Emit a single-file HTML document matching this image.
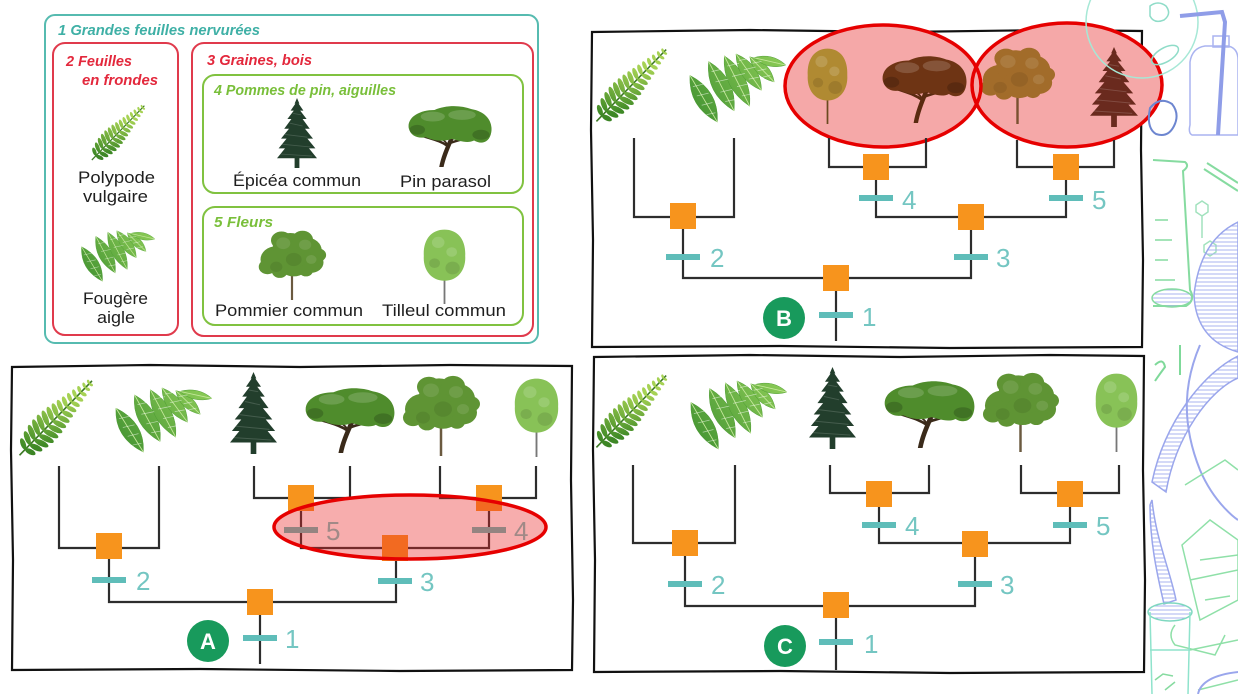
<!DOCTYPE html>
<html><head><meta charset="utf-8"><style>
html,body{margin:0;padding:0;background:#fff;}
svg{display:block;}
.ln{fill:none;stroke:#2d2d2d;stroke-width:2.2;}
.nd{fill:#f7941d;}
.tk{fill:#5fbdb9;}
.num{font-family:"Liberation Sans",sans-serif;font-size:26px;fill:#74c6c2;}
.lt{font-family:"Liberation Sans",sans-serif;font-size:22px;font-weight:bold;fill:#fff;text-anchor:middle;}
.nm{font-family:"Liberation Sans",sans-serif;font-size:17px;fill:#1e1e1e;}
.hd{font-family:"Liberation Sans",sans-serif;font-size:15px;font-style:italic;font-weight:bold;}
</style></head><body>
<svg width="1238" height="694" viewBox="0 0 1238 694" xmlns="http://www.w3.org/2000/svg">
<defs>
<linearGradient id="gP" gradientUnits="userSpaceOnUse" x1="5" y1="95" x2="95" y2="8">
<stop offset="0" stop-color="#2a6420"/><stop offset="0.55" stop-color="#3f8a26"/><stop offset="1" stop-color="#a6d254"/></linearGradient>
<linearGradient id="gA" gradientUnits="userSpaceOnUse" x1="0" y1="75" x2="100" y2="0">
<stop offset="0" stop-color="#3f9030"/><stop offset="1" stop-color="#8fce58"/></linearGradient>
<pattern id="hatch" width="6" height="4" patternUnits="userSpaceOnUse"><line x1="0" y1="2" x2="6" y2="2" stroke="#aab3ef" stroke-width="1"/></pattern>

<symbol id="fernP" viewBox="0 0 100 100" preserveAspectRatio="none" overflow="visible">
<g transform="translate(6,94) rotate(-44)" fill="url(#gP)">
<line x1="-4" y1="0" x2="122" y2="0" stroke="#3d7a25" stroke-width="2"/>
<ellipse cx="6" cy="-7" rx="3.2" ry="7" transform="rotate(22 6 0)"/><ellipse cx="6" cy="7" rx="3.2" ry="7" transform="rotate(-22 6 0)"/>
<ellipse cx="14" cy="-8.5" rx="3.4" ry="8.5" transform="rotate(22 14 0)"/><ellipse cx="14" cy="8.5" rx="3.4" ry="8.5" transform="rotate(-22 14 0)"/>
<ellipse cx="22" cy="-9.5" rx="3.5" ry="9.5" transform="rotate(22 22 0)"/><ellipse cx="22" cy="9.5" rx="3.5" ry="9.5" transform="rotate(-22 22 0)"/>
<ellipse cx="30" cy="-10" rx="3.5" ry="10" transform="rotate(22 30 0)"/><ellipse cx="30" cy="10" rx="3.5" ry="10" transform="rotate(-22 30 0)"/>
<ellipse cx="38" cy="-10" rx="3.5" ry="10" transform="rotate(22 38 0)"/><ellipse cx="38" cy="10" rx="3.5" ry="10" transform="rotate(-22 38 0)"/>
<ellipse cx="46" cy="-9.6" rx="3.4" ry="9.6" transform="rotate(22 46 0)"/><ellipse cx="46" cy="9.6" rx="3.4" ry="9.6" transform="rotate(-22 46 0)"/>
<ellipse cx="54" cy="-9" rx="3.3" ry="9" transform="rotate(22 54 0)"/><ellipse cx="54" cy="9" rx="3.3" ry="9" transform="rotate(-22 54 0)"/>
<ellipse cx="62" cy="-8.2" rx="3.2" ry="8.2" transform="rotate(22 62 0)"/><ellipse cx="62" cy="8.2" rx="3.2" ry="8.2" transform="rotate(-22 62 0)"/>
<ellipse cx="70" cy="-7.4" rx="3" ry="7.4" transform="rotate(22 70 0)"/><ellipse cx="70" cy="7.4" rx="3" ry="7.4" transform="rotate(-22 70 0)"/>
<ellipse cx="78" cy="-6.6" rx="2.8" ry="6.6" transform="rotate(22 78 0)"/><ellipse cx="78" cy="6.6" rx="2.8" ry="6.6" transform="rotate(-22 78 0)"/>
<ellipse cx="86" cy="-5.8" rx="2.6" ry="5.8" transform="rotate(22 86 0)"/><ellipse cx="86" cy="5.8" rx="2.6" ry="5.8" transform="rotate(-22 86 0)"/>
<ellipse cx="94" cy="-5" rx="2.4" ry="5" transform="rotate(22 94 0)"/><ellipse cx="94" cy="5" rx="2.4" ry="5" transform="rotate(-22 94 0)"/>
<ellipse cx="102" cy="-4.2" rx="2.2" ry="4.2" transform="rotate(22 102 0)"/><ellipse cx="102" cy="4.2" rx="2.2" ry="4.2" transform="rotate(-22 102 0)"/>
<ellipse cx="110" cy="-3.4" rx="1.9" ry="3.4" transform="rotate(22 110 0)"/><ellipse cx="110" cy="3.4" rx="1.9" ry="3.4" transform="rotate(-22 110 0)"/>
<ellipse cx="117" cy="-2.6" rx="1.6" ry="2.6" transform="rotate(22 117 0)"/><ellipse cx="117" cy="2.6" rx="1.6" ry="2.6" transform="rotate(-22 117 0)"/>
</g></symbol>

<symbol id="fernA" viewBox="0 0 100 75" preserveAspectRatio="none" overflow="visible">
<g fill="url(#gA)" stroke="#4a9a32" stroke-width="0.5">
<path d="M2,24 Q31.7,40.2 30,74 Q0.3,57.8 2,24 Z"/>
<path d="M21,9 Q50.2,27.6 47,62 Q17.8,43.4 21,9 Z"/>
<path d="M37,3 Q65.3,22.6 63,57 Q34.7,37.4 37,3 Z"/>
<path d="M49,1 Q74.5,12.2 75,40 Q49.5,28.8 49,1 Z"/>
<path d="M63,4 Q84.3,9.4 88,31 Q66.7,25.6 63,4 Z"/>
<path d="M67,5 Q85.9,-0.7 100,13 Q81.1,18.7 67,5 Z"/>
</g>
<g fill="none" stroke="#c6e89c" stroke-width="0.9">
<path d="M2,24 L30,74 M21,9 L47,62 M37,3 L63,57 M49,1 L75,40 M63,4 L88,31 M67,5 L100,13"/>
</g>
<g fill="none" stroke="#fff" stroke-opacity="0.55" stroke-width="0.8">
<path d="M5,36 L17,33 M9,46 L21,43 M14,56 L25,53 M19,66 L28,64 M24,20 L36,17 M28,31 L41,28 M33,42 L45,39 M38,52 L48,50 M40,14 L52,11 M45,25 L58,22 M50,36 L62,33 M55,46 L64,44 M52,8 L62,6 M57,18 L69,15 M62,28 L72,26 M66,11 L75,9 M71,19 L80,17 M76,26 L84,24"/>
</g></symbol>

<symbol id="spruce" viewBox="0 0 50 100" preserveAspectRatio="none">
<polygon stroke="none" points="25,0 28,8 27,8 33,18 29,18 37,30 32,30 41,44 35,44 45,58 38,58 48,72 40,72 50,86 28,86 28,100 22,100 22,86 0,86 10,72 2,72 12,58 5,58 15,44 9,44 18,30 13,30 21,18 17,18 23,8 22,8"/>
<g stroke="#fff" stroke-opacity="0.16" stroke-width="1.2" fill="none"><path d="M16,36 L32,40 M10,52 L38,56 M6,66 L42,70 M4,80 L44,83 M20,22 L30,24"/></g>
</symbol>

<symbol id="parasol" viewBox="0 0 100 75" preserveAspectRatio="none">
<g fill="none" stroke-linecap="round"><path d="M40,75 C42,64 46,54 52,40" stroke-width="5"/><path d="M48,50 C40,44 32,42 20,38" stroke-width="3"/><path d="M50,46 C60,42 70,40 82,38" stroke-width="3"/><path d="M47,48 C44,42 38,40 34,38" stroke-width="2"/><path d="M52,42 L60,36" stroke-width="2"/></g>
<path stroke="none" d="M2,28 C0,15 14,6 32,6 C45,0 62,0 75,5 C92,8 100,20 98,33 C96,46 86,48 78,43 C70,47 60,43 52,41 C42,45 30,43 22,39 C12,41 4,37 2,28 Z"/>
<g fill="#fff" fill-opacity="0.16" stroke="none"><ellipse cx="30" cy="14" rx="14" ry="6"/><ellipse cx="64" cy="12" rx="16" ry="6"/></g>
<g fill="#000" fill-opacity="0.18" stroke="none"><ellipse cx="12" cy="30" rx="9" ry="6"/><ellipse cx="86" cy="36" rx="10" ry="6"/></g>
</symbol>

<symbol id="pommier" viewBox="0 0 80 95" preserveAspectRatio="none">
<g fill="none"><path d="M40,95 L40,52" stroke-width="2.5"/><path d="M40,62 L30,52 M40,58 L52,48" stroke-width="1.5"/></g>
<g stroke="none">
<circle cx="22" cy="40" r="18"/><circle cx="38" cy="24" r="20"/><circle cx="56" cy="28" r="18"/><circle cx="62" cy="44" r="14"/><circle cx="42" cy="46" r="17"/><circle cx="12" cy="50" r="10"/><circle cx="28" cy="14" r="12"/><circle cx="52" cy="13" r="12"/><circle cx="70" cy="34" r="9"/><circle cx="56" cy="55" r="8"/><circle cx="26" cy="56" r="9"/>
</g>
<g fill="#fff" fill-opacity="0.1" stroke="none"><circle cx="30" cy="18" r="8"/><circle cx="55" cy="20" r="7"/><circle cx="62" cy="40" r="6"/></g>
<g fill="#000" fill-opacity="0.08" stroke="none"><circle cx="42" cy="40" r="9"/><circle cx="22" cy="50" r="7"/></g>
</symbol>

<symbol id="tilleul" viewBox="0 0 50 95" preserveAspectRatio="none">
<path d="M25,50 L25,95" fill="none" stroke-width="2"/>
<path stroke="none" d="M25,2 C40,2 49,15 48,35 C49,52 40,66 25,66 C10,66 1,52 2,35 C1,15 10,2 25,2 Z"/>
<g fill="#fff" fill-opacity="0.15" stroke="none"><circle cx="18" cy="18" r="7"/><circle cx="33" cy="30" r="6"/></g>
<g fill="#000" fill-opacity="0.1" stroke="none"><circle cx="34" cy="50" r="8"/><circle cx="14" cy="44" r="6"/></g>
</symbol>
</defs>

<!-- ========== LEGEND ========== -->
<rect x="45" y="15" width="493" height="328" rx="10" fill="none" stroke="#56bbb0" stroke-width="2"/>
<text class="hd" x="58" y="35" fill="#3fb0a6" textLength="202" lengthAdjust="spacingAndGlyphs">1 Grandes feuilles nervurées</text>
<rect x="53" y="43" width="125" height="292" rx="12" fill="none" stroke="#e03a4c" stroke-width="2"/>
<rect x="192" y="43" width="341" height="293" rx="12" fill="none" stroke="#e03a4c" stroke-width="2"/>
<text class="hd" x="66" y="66" fill="#e3283c" font-size="16" textLength="66" lengthAdjust="spacingAndGlyphs">2 Feuilles</text>
<text class="hd" x="82" y="85" fill="#e3283c" font-size="16" textLength="76" lengthAdjust="spacingAndGlyphs">en frondes</text>
<text class="hd" x="207" y="65" fill="#e3283c" font-size="16" textLength="105" lengthAdjust="spacingAndGlyphs">3 Graines, bois</text>
<rect x="203" y="75" width="320" height="118" rx="12" fill="none" stroke="#80c240" stroke-width="2"/>
<rect x="203" y="207" width="320" height="118" rx="12" fill="none" stroke="#80c240" stroke-width="2"/>
<text class="hd" x="214" y="95" fill="#79bf3a" textLength="182" lengthAdjust="spacingAndGlyphs">4 Pommes de pin, aiguilles</text>
<text class="hd" x="214" y="227" fill="#79bf3a" textLength="59" lengthAdjust="spacingAndGlyphs">5 Fleurs</text>

<use href="#fernP" x="90" y="100" width="58" height="62"/>
<use href="#fernA" x="80" y="230" width="75" height="52"/>
<use href="#spruce" x="277" y="98" width="40" height="70" fill="#223e2c"/>
<use href="#parasol" x="407" y="105" width="86" height="62" fill="#4f8c2c" stroke="#3a2a1a"/>
<use href="#pommier" x="257" y="230" width="70" height="70" fill="#5f9434" stroke="#6b5a40"/>
<use href="#tilleul" x="422" y="228" width="45" height="76" fill="#88c257" stroke="#777"/>

<text class="nm" x="78" y="183" textLength="77" lengthAdjust="spacingAndGlyphs">Polypode</text>
<text class="nm" x="83" y="202" textLength="65" lengthAdjust="spacingAndGlyphs">vulgaire</text>
<text class="nm" x="83" y="304" textLength="65" lengthAdjust="spacingAndGlyphs">Fougère</text>
<text class="nm" x="97" y="323" textLength="38" lengthAdjust="spacingAndGlyphs">aigle</text>
<text class="nm" x="233" y="186" textLength="128" lengthAdjust="spacingAndGlyphs">Épicéa commun</text>
<text class="nm" x="400" y="187" textLength="91" lengthAdjust="spacingAndGlyphs">Pin parasol</text>
<text class="nm" x="215" y="316" textLength="148" lengthAdjust="spacingAndGlyphs">Pommier commun</text>
<text class="nm" x="382" y="316" textLength="124" lengthAdjust="spacingAndGlyphs">Tilleul commun</text>

<!-- ========== PANEL A ========== -->
<path d="M12,367 L150,365 L300,367 L450,365 L572,366 L571,480 L573,600 L572,670 L400,671 L200,669 L12,670 L13,560 L11,450 Z" fill="none" stroke="#111" stroke-width="2.2"/>
<use href="#fernP" x="17" y="373" width="80" height="85"/>
<use href="#fernA" x="114" y="387" width="98" height="66"/>
<use href="#spruce" x="230" y="372" width="47" height="82" fill="#223e2c"/>
<use href="#parasol" x="304" y="387" width="92" height="66" fill="#4f8c2c" stroke="#3a2a1a"/>
<use href="#pommier" x="401" y="375" width="80" height="81" fill="#5f9434" stroke="#6b5a40"/>
<use href="#tilleul" x="513" y="377" width="47" height="80" fill="#88c257" stroke="#777"/>

<path class="ln" d="M59,466 V548 H159 V466"/>
<path class="ln" d="M109,546 V602 H396 V548"/>
<path class="ln" d="M260,602 V664"/>
<path class="ln" d="M254,466 V498 H350 V466"/>
<path class="ln" d="M440,466 V498 H536 V466"/>
<path class="ln" d="M301,498 V548 H489 V498"/>
<rect class="nd" x="96" y="533" width="26" height="26"/>
<rect class="nd" x="247" y="589" width="26" height="26"/>
<rect class="nd" x="382" y="535" width="26" height="26"/>
<rect class="nd" x="288" y="485" width="26" height="26"/>
<rect class="nd" x="476" y="485" width="26" height="26"/>
<rect class="tk" x="92" y="577" width="34" height="6"/>
<rect class="tk" x="243" y="635" width="34" height="6"/>
<rect class="tk" x="378" y="578" width="34" height="6"/>
<rect class="tk" x="284" y="527" width="34" height="6"/>
<rect class="tk" x="472" y="527" width="34" height="6"/>
<text class="num" x="136" y="590">2</text>
<text class="num" x="285" y="648">1</text>
<text class="num" x="420" y="591">3</text>
<text class="num" x="326" y="540">5</text>
<text class="num" x="514" y="540">4</text>
<circle cx="208" cy="641" r="21" fill="#189a5c"/>
<text class="lt" x="208" y="649">A</text>
<ellipse cx="410" cy="527" rx="136" ry="32" fill="rgba(235,40,40,0.38)" stroke="#e60000" stroke-width="3.5"/>

<!-- ========== PANEL B ========== -->
<path d="M592,32 L750,30 L900,32 L1050,30 L1142,31 L1141,150 L1143,260 L1142,347 L950,348 L780,346 L592,347 L593,240 L591,130 Z" fill="none" stroke="#111" stroke-width="2.2"/>
<use href="#fernP" x="594" y="42" width="77" height="82"/>
<use href="#fernA" x="688" y="53" width="98" height="70"/>
<ellipse cx="883" cy="86" rx="98" ry="61" fill="#f5a8a8"/>
<ellipse cx="1067" cy="85" rx="95" ry="62" fill="#f5a8a8"/>
<use href="#tilleul" x="806" y="47" width="43" height="77" fill="#b08a32" stroke="#6b4a20"/>
<use href="#parasol" x="881" y="55" width="87" height="68" fill="#6e3414" stroke="#5a2a10"/>
<use href="#pommier" x="979" y="47" width="77" height="77" fill="#a26c2a" stroke="#7a5030"/>
<use href="#spruce" x="1090" y="47" width="48" height="80" fill="#6a2a1e"/>
<ellipse cx="883" cy="86" rx="98" ry="61" fill="none" stroke="#e60000" stroke-width="3.5"/>
<ellipse cx="1067" cy="85" rx="95" ry="62" fill="none" stroke="#e60000" stroke-width="3.5"/>

<path class="ln" d="M634,138 V217 H734 V138"/>
<path class="ln" d="M683,216 V278 H971 V217"/>
<path class="ln" d="M836,278 V341"/>
<path class="ln" d="M829,138 V167 H926 V138"/>
<path class="ln" d="M1017,140 V167 H1114 V140"/>
<path class="ln" d="M876,167 V217 H1066 V167"/>
<rect class="nd" x="670" y="203" width="26" height="26"/>
<rect class="nd" x="823" y="265" width="26" height="26"/>
<rect class="nd" x="958" y="204" width="26" height="26"/>
<rect class="nd" x="863" y="154" width="26" height="26"/>
<rect class="nd" x="1053" y="154" width="26" height="26"/>
<rect class="tk" x="666" y="254" width="34" height="6"/>
<rect class="tk" x="819" y="312" width="34" height="6"/>
<rect class="tk" x="954" y="254" width="34" height="6"/>
<rect class="tk" x="859" y="195" width="34" height="6"/>
<rect class="tk" x="1049" y="195" width="34" height="6"/>
<text class="num" x="710" y="267">2</text>
<text class="num" x="862" y="326">1</text>
<text class="num" x="996" y="267">3</text>
<text class="num" x="902" y="209">4</text>
<text class="num" x="1092" y="209">5</text>
<circle cx="784" cy="318" r="21" fill="#189a5c"/>
<text class="lt" x="784" y="326">B</text>

<!-- ========== PANEL C ========== -->
<path d="M594,357 L750,355 L900,357 L1050,355 L1144,356 L1143,470 L1145,580 L1144,672 L950,673 L780,671 L594,672 L595,560 L593,450 Z" fill="none" stroke="#111" stroke-width="2.2"/>
<use href="#fernP" x="594" y="368" width="77" height="82"/>
<use href="#fernA" x="689" y="380" width="98" height="70"/>
<use href="#spruce" x="809" y="367" width="47" height="82" fill="#223e2c"/>
<use href="#parasol" x="883" y="380" width="93" height="68" fill="#4f8c2c" stroke="#3a2a1a"/>
<use href="#pommier" x="981" y="372" width="79" height="80" fill="#5f9434" stroke="#6b5a40"/>
<use href="#tilleul" x="1094" y="372" width="45" height="80" fill="#88c257" stroke="#777"/>

<path class="ln" d="M633,465 V543 H735 V465"/>
<path class="ln" d="M685,543 V606 H975 V543"/>
<path class="ln" d="M836,606 V670"/>
<path class="ln" d="M830,465 V493 H929 V465"/>
<path class="ln" d="M1021,465 V493 H1119 V465"/>
<path class="ln" d="M879,493 V543 H1070 V493"/>
<rect class="nd" x="672" y="530" width="26" height="26"/>
<rect class="nd" x="823" y="592" width="26" height="26"/>
<rect class="nd" x="962" y="531" width="26" height="26"/>
<rect class="nd" x="866" y="481" width="26" height="26"/>
<rect class="nd" x="1057" y="481" width="26" height="26"/>
<rect class="tk" x="668" y="581" width="34" height="6"/>
<rect class="tk" x="819" y="639" width="34" height="6"/>
<rect class="tk" x="958" y="581" width="34" height="6"/>
<rect class="tk" x="862" y="522" width="34" height="6"/>
<rect class="tk" x="1053" y="522" width="34" height="6"/>
<text class="num" x="711" y="594">2</text>
<text class="num" x="864" y="653">1</text>
<text class="num" x="1000" y="594">3</text>
<text class="num" x="905" y="535">4</text>
<text class="num" x="1096" y="535">5</text>
<circle cx="785" cy="646" r="21" fill="#189a5c"/>
<text class="lt" x="785" y="654">C</text>

<!-- ========== RIGHT DECORATION ========== -->
<g fill="none" stroke-width="1.5">
<circle cx="1142" cy="22" r="56" stroke="#a6e8d6"/>
<path d="M1150,6 q8,-6 16,0 q6,8 -2,14 q-10,4 -14,-4z" stroke="#8fdcc8"/>
<ellipse cx="1165" cy="55" rx="15" ry="7" transform="rotate(-30 1165 55)" stroke="#8fdcc8"/>
<path d="M1150,108 q10,-12 22,-4 q8,10 2,22 q-6,12 -18,8 q-10,-6 -6,-26z" stroke="#6d86d0" stroke-width="2"/>
<path d="M1190,62 Q1192,48 1205,46 L1228,46 Q1238,48 1238,60 L1238,135 L1192,135 Q1188,133 1190,125 Z" stroke="#aab4f0"/>
<rect x="1213" y="36" width="16" height="11" stroke="#aab4f0"/>
<path d="M1180,16 L1222,12 L1225,22 L1218,135" stroke="#8f9de8" stroke-width="4"/>
<path d="M1153,160 L1185,162 Q1190,166 1183,171 L1190,290 Q1196,300 1186,306 L1153,306" stroke="#86dba0" stroke-width="2"/>
<path d="M1155,220 H1168 M1155,240 H1172 M1155,260 H1168 M1155,280 H1175" stroke="#86dba0"/>
<ellipse cx="1172" cy="298" rx="20" ry="9" fill="url(#hatch)" stroke="#86dba0"/>
<path d="M1207,163 L1238,183 M1204,169 L1238,191" stroke="#86dba0" stroke-width="2"/>
<path d="M1196,205 l6,-4 l6,4 l0,7 l-6,4 l-6,-4z M1204,245 l6,-4 l6,4 l0,7 l-6,4 l-6,-4z M1202,216 V238" stroke="#a2e2be"/>
<path d="M1238,222 Q1200,240 1194,295 Q1196,340 1238,352 Z" fill="url(#hatch)" stroke="#9aa6ec"/>
<path d="M1238,356 C1205,372 1165,420 1152,482 L1166,492 C1176,435 1210,390 1238,378 Z" fill="url(#hatch)" stroke="#9aa6ec"/>
<path d="M1152,500 C1156,540 1170,570 1176,600 L1164,604 C1156,570 1150,540 1150,505 Z" fill="url(#hatch)" stroke="#9aa6ec"/>
<path d="M1200,345 C1185,380 1180,420 1200,470 C1215,505 1238,520 1238,520" stroke="#9aa6ec" stroke-width="2"/>
<path d="M1180,345 V375" stroke="#7fd99a" stroke-width="2"/>
<path d="M1155,365 q8,-8 10,2 q-6,8 -10,14" stroke="#7fd99a" stroke-width="2"/>
<path d="M1185,485 L1225,460 L1238,470 M1182,545 L1210,520 L1238,540 L1238,600 L1200,620 Z M1190,580 L1238,570 M1175,625 q-8,10 0,20 l40,10 l10,-20 M1190,650 L1238,640 M1198,690 L1238,680" stroke="#8fe0a8"/>
<path d="M1200,560 L1238,555 M1205,600 L1230,596" stroke="#8fe0a8"/>
<ellipse cx="1170" cy="612" rx="22" ry="9" fill="url(#hatch)" stroke="#7fd8c0"/>
<path d="M1150,612 L1152,694 M1190,612 L1188,694 M1150,650 H1190" stroke="#8fe3cc"/>
<path d="M1198,694 Q1202,676 1238,672" stroke="#9aa6ec" stroke-width="2"/>
<path d="M1155,680 l8,-6 l10,2 M1165,690 l10,-8" stroke="#86dba0"/>
</g>
</svg>
</body></html>
